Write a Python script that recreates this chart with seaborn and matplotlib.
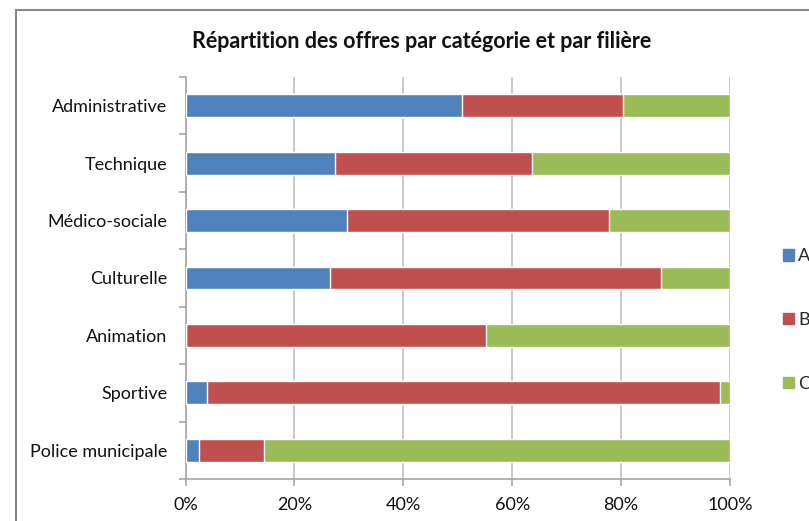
import numpy as np
import pandas as pd
import matplotlib
matplotlib.use("Agg")
import matplotlib.pyplot as plt
import matplotlib.patches as mpatches
from matplotlib.ticker import FixedLocator, PercentFormatter
import seaborn as sns

# Données (parts en %)
filieres = ["Administrative", "Technique", "Médico-sociale", "Culturelle",
            "Animation", "Sportive", "Police municipale"]
cat_a = [50.8, 27.4, 29.6, 26.5, 0.0, 3.9, 2.4]
cat_b = [29.5, 36.3, 48.1, 60.9, 55.2, 94.2, 12.0]
cat_c = [19.7, 36.3, 22.3, 12.6, 44.8, 1.9, 85.6]
categories = ["A", "B", "C"]
couleurs = ["#4F81BD", "#C0504D", "#9BBB59"]

df = pd.DataFrame({"filiere": filieres, "A": cat_a, "B": cat_b, "C": cat_c})
# cumuls pour l'empilement
df["AB"] = df["A"] + df["B"]
df["ABC"] = df["AB"] + df["C"]

sns.set_theme(style="white")
plt.rcParams["font.family"] = ["Lato", "DejaVu Sans"]

fig = plt.figure(figsize=(8.09, 5.21), dpi=100)
ax = fig.add_axes([185.5 / 809, 42 / 521, 544.5 / 809, 402 / 521])

ax.grid(axis="x", color="#BFBFBF", linewidth=1.2)
ax.set_axisbelow(True)

# barres empilées : on superpose les cumuls, du plus long au plus court
sns.barplot(data=df, y="filiere", x="ABC", color=couleurs[2], width=0.4,
            saturation=1, ax=ax, zorder=2)
sns.barplot(data=df, y="filiere", x="AB", color=couleurs[1], width=0.4,
            saturation=1, ax=ax, zorder=3)
sns.barplot(data=df, y="filiere", x="A", color=couleurs[0], width=0.4,
            saturation=1, ax=ax, zorder=4)

ax.set_xlim(0, 100)
ax.set_ylim(len(filieres) - 0.5, -0.5)
ax.set_xticks(np.arange(0, 101, 20))
ax.xaxis.set_major_formatter(PercentFormatter(decimals=0))
ax.set_xlabel("")
ax.set_ylabel("")

for s in ["top", "right"]:
    ax.spines[s].set_visible(False)
for s in ["left", "bottom"]:
    ax.spines[s].set_color("#A6A6A6")
    ax.spines[s].set_linewidth(1.2)

ax.yaxis.set_minor_locator(FixedLocator(np.arange(-0.5, len(filieres), 1)))
ax.tick_params(axis="y", which="major", length=0, pad=13, labelsize=13, labelcolor="#111111")
ax.tick_params(axis="y", which="minor", left=True, length=5, width=1.2, color="#A6A6A6")
ax.tick_params(axis="x", which="major", bottom=True, length=5, width=1.2, color="#A6A6A6",
               pad=8, labelsize=13, labelcolor="#111111")

handles = [mpatches.Patch(color=c, label=l) for c, l in zip(couleurs, categories)]
fig.legend(handles=handles, loc="center left", bbox_to_anchor=(774 / 809, 1 - 320 / 521),
           frameon=False, handlelength=0.6, handleheight=0.6, handletextpad=0.25,
           labelspacing=2.65, fontsize=13, borderpad=0)

fig.text(422 / 809, 1 - 42 / 521, "Répartition des offres par catégorie et par filière",
         ha="center", va="center", fontsize=15.5, fontweight="bold", color="#111111")

# cadre du graphique (coupé à droite et en bas comme sur la capture)
fig.patches.append(mpatches.Rectangle((16 / 809, -0.2), 2, 1.2 - 10 / 521, fill=False,
                                      edgecolor="#868686", linewidth=1.5,
                                      transform=fig.transFigure, figure=fig))

fig.savefig("out.png", dpi=100)
